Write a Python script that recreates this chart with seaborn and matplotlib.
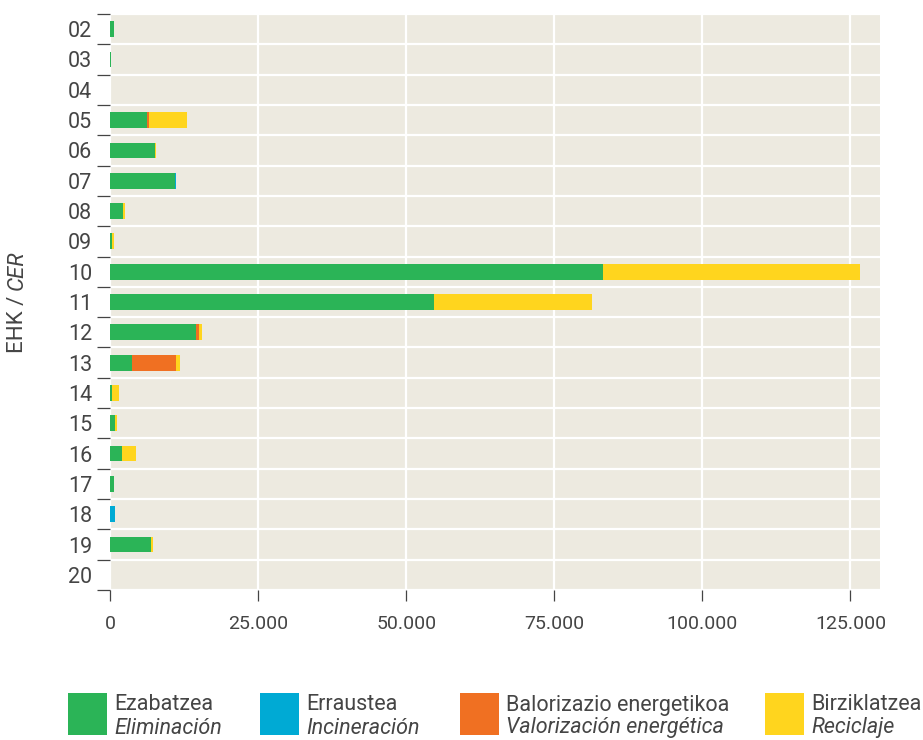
import pandas as pd
import matplotlib
matplotlib.use('Agg')
import matplotlib.pyplot as plt
import seaborn as sns
from matplotlib.patches import Rectangle
from matplotlib.ticker import FuncFormatter

# EHK / CER codes, one bar per code
codes = ['02', '03', '04', '05', '06', '07', '08', '09', '10', '11',
         '12', '13', '14', '15', '16', '17', '18', '19', '20']

# tonnes per treatment
eliminacion = [650, 170, 0, 6250, 7600, 11030, 2200, 340, 83270, 54700,
               14530, 3720, 340, 850, 2030, 680, 0, 6930, 0]
incineracion = [0, 0, 0, 0, 0, 100, 0, 0, 0, 0,
                0, 0, 0, 0, 0, 0, 850, 0, 0]
valorizacion = [0, 0, 0, 340, 0, 0, 0, 0, 0, 0,
                510, 7430, 0, 0, 0, 0, 0, 0, 0]
reciclaje = [0, 0, 0, 6420, 150, 0, 290, 340, 43400, 26700,
             510, 680, 1180, 340, 2360, 0, 0, 340, 0]

series_eu = ['Ezabatzea', 'Erraustea', 'Balorizazio energetikoa', 'Birziklatzea']
series_es = ['Eliminación', 'Incineración', 'Valorización energética', 'Reciclaje']
colors = ['#2bb457', '#00aad4', '#f07022', '#ffd51e']
x_ticks = [0, 25000, 50000, 75000, 100000, 125000]

BG = '#edeae0'
TXT = '#454545'
W, H = 923, 740


def build_frame():
    '''
    Put the four series in one table and add the running totals that
    are drawn on top of each other to fake a stacked bar.
    '''
    df = pd.DataFrame({'code': codes,
                       'Eliminación': eliminacion,
                       'Incineración': incineracion,
                       'Valorización energética': valorizacion,
                       'Reciclaje': reciclaje})
    df[[f'cum_{s}' for s in series_es]] = df[series_es].cumsum(axis=1).values
    return df


def draw_legend(fig):
    '''
    Legend with a basque line and an italic spanish line under it
    '''
    sq_x = [68, 260, 460, 765]
    for i in range(4):
        x0 = sq_x[i]
        fig.add_artist(Rectangle((x0 / W, 1 - 735 / H), 39 / W, 42 / H,
                                 transform=fig.transFigure,
                                 facecolor=colors[i], edgecolor='none'))
        fig.text((x0 + 46) / W, 1 - 705 / H, series_eu[i], fontsize=15.5,
                 color=TXT, va='center', ha='left')
        fig.text((x0 + 46) / W, 1 - 728 / H, series_es[i], fontsize=15.5,
                 color=TXT, va='center', ha='left', style='italic')


def draw_ylabel(fig):
    '''
    Rotated axis title, "CER" in italics stacked above "EHK /"
    '''
    t1 = fig.text(17 / W, 1 - 353 / H, 'EHK /', rotation=90, fontsize=16,
                  color=TXT, ha='center', va='bottom')
    fig.text(0.5, 1.0, 'CER', rotation=90, fontsize=16, color=TXT,
             style='italic', ha='center', va='bottom',
             transform=matplotlib.transforms.offset_copy(
                 matplotlib.transforms.BboxTransformTo(
                     t1.get_window_extent(fig.canvas.get_renderer())),
                 fig=fig, x=0, y=4.5, units='points'))


def main():
    df = build_frame()

    sns.set_style('white')
    plt.rcParams['font.family'] = ['Roboto', 'DejaVu Sans']
    plt.rcParams['font.weight'] = 'normal'

    fig = plt.figure(figsize=(W / 100, H / 100), dpi=100)
    ax = fig.add_axes([110 / W, 1 - 590 / H, 770 / W, 576 / H])
    ax.set_facecolor(BG)

    # biggest running total first, so the smaller ones sit on top
    for s, c in reversed(list(zip(series_es, colors))):
        sns.barplot(data=df, x=f'cum_{s}', y='code', order=codes,
                    orient='h', color=c, width=0.52, linewidth=0,
                    saturation=1, ax=ax)

    n = len(codes)
    ax.set_xlim(0, 130000)
    ax.set_ylim(n - 0.5, -0.5)

    ax.set_xticks(x_ticks)
    ax.xaxis.set_major_formatter(
        FuncFormatter(lambda v, p: f'{int(v):,}'.replace(',', '.')))
    ax.set_yticks(range(n))
    ax.set_yticklabels(codes)
    ax.set_yticks([i - 0.5 for i in range(n + 1)], minor=True)

    ax.set_axisbelow(True)
    ax.grid(False)
    ax.xaxis.grid(True, which='major', color='white', linewidth=1.6)
    ax.yaxis.grid(True, which='minor', color='white', linewidth=1.6)

    ax.tick_params(axis='x', which='major', direction='out', length=8,
                   width=0.9, color='#444444', labelsize=14,
                   labelcolor=TXT, pad=10, bottom=True)
    ax.tick_params(axis='y', which='major', length=0, labelsize=15.5,
                   labelcolor=TXT, pad=13, left=True)
    ax.tick_params(axis='y', which='minor', direction='out', length=9.5,
                   width=0.9, color='#444444', left=True)
    for sp in ax.spines.values():
        sp.set_visible(False)

    ax.set_xlabel('')
    ax.set_ylabel('')
    draw_ylabel(fig)
    draw_legend(fig)

    fig.savefig('out.png', dpi=100, facecolor='white')


if __name__ == '__main__':
    main()
